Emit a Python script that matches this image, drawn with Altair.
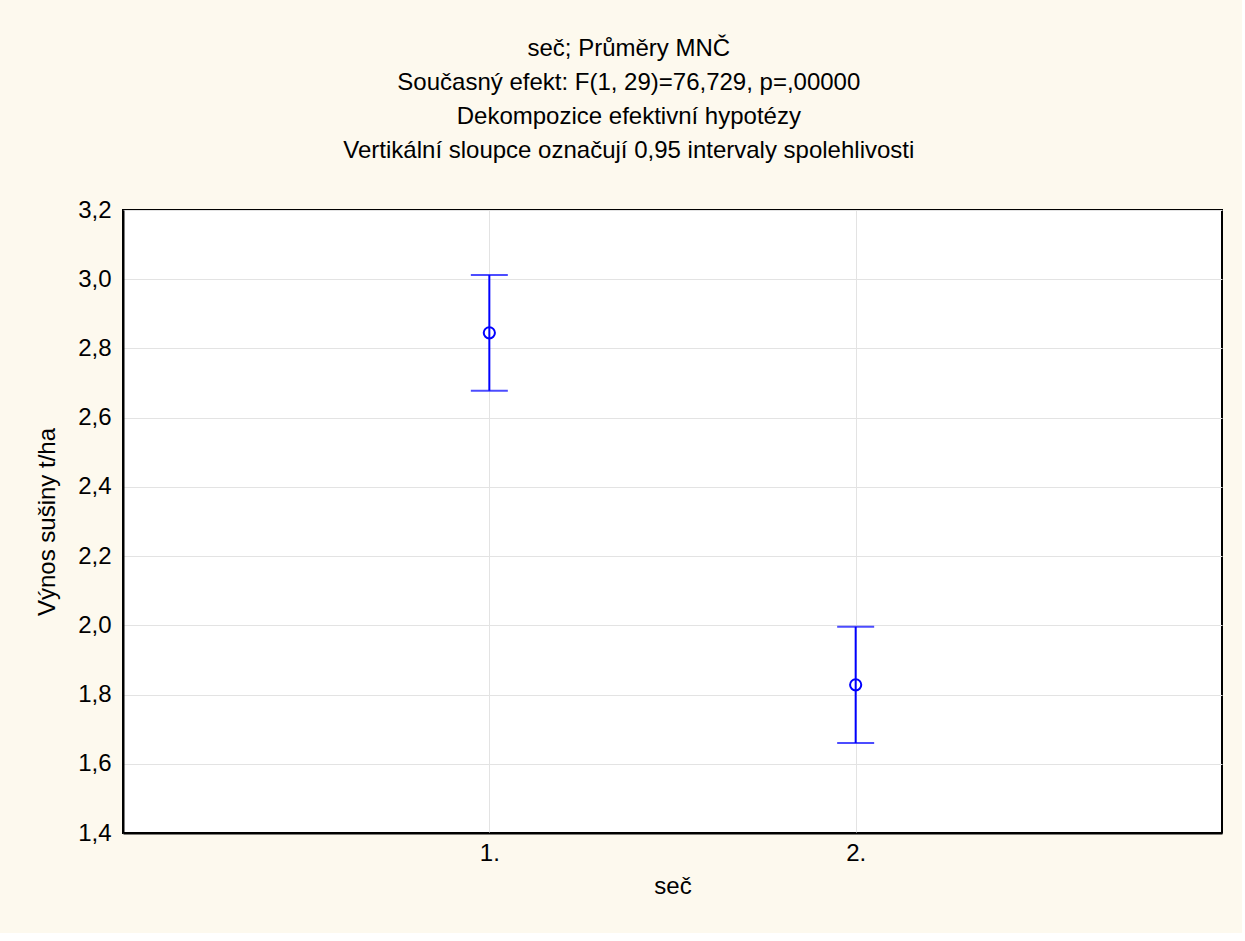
import altair as alt
import pandas as pd

# Data
categories = ["1.", "2."]
means = [2.845, 1.828]
ci_low = [2.678, 1.660]
ci_high = [3.012, 1.996]

title_lines = [
    "seč; Průměry MNČ",
    "Současný efekt: F(1, 29)=76,729, p=,00000",
    "Dekompozice efektivní hypotézy",
    "Vertikální sloupce označují 0,95 intervaly spolehlivosti",
]

df = pd.DataFrame({"sec": categories, "mean": means, "lo": ci_low, "hi": ci_high})

FONT = "Liberation Sans"
BLUE = "#0000FF"

x_enc = alt.X(
    "sec:N",
    scale=alt.Scale(type="point", padding=1, domain=categories),
    axis=alt.Axis(
        title="seč",
        labelAngle=0,
        grid=True,
        ticks=False,
        labelPadding=8,
        titlePadding=9,
    ),
)
y_scale = alt.Scale(domain=[1.4, 3.2], nice=False, zero=False)
y_axis = alt.Axis(
    title="Výnos sušiny t/ha",
    values=[1.4, 1.6, 1.8, 2.0, 2.2, 2.4, 2.6, 2.8, 3.0, 3.2],
    labelExpr="replace(format(datum.value, '.1f'), '.', ',')",
    grid=True,
    ticks=False,
    labelPadding=12,
    titlePadding=18,
)

base = alt.Chart(df)

rules = base.mark_rule(color=BLUE, strokeWidth=2).encode(
    x=x_enc,
    y=alt.Y("lo:Q", scale=y_scale, axis=y_axis),
    y2="hi:Q",
)
caps_hi = base.mark_tick(color=BLUE, thickness=2, size=37).encode(
    x=x_enc, y=alt.Y("hi:Q", scale=y_scale)
)
caps_lo = base.mark_tick(color=BLUE, thickness=2, size=37).encode(
    x=x_enc, y=alt.Y("lo:Q", scale=y_scale)
)
pts = base.mark_point(
    shape="circle", filled=False, color=BLUE, strokeWidth=2, size=125, opacity=1
).encode(x=x_enc, y=alt.Y("mean:Q", scale=y_scale))

chart = (
    alt.layer(rules, caps_hi, caps_lo, pts)
    .properties(
        width=1099,
        height=623,
        autosize=alt.AutoSizeParams(type="none"),
        padding={"left": 123, "top": 210, "right": 20, "bottom": 100},
        background="#FDF9EE",
        title=alt.Title(
            text=title_lines,
            fontSize=24,
            fontWeight="normal",
            font=FONT,
            color="black",
            lineHeight=34,
            anchor="middle",
            frame="bounds",
            offset=35,
        ),
    )
    .configure_view(stroke="black", strokeWidth=2, fill="white")
    .configure_axis(
        labelFont=FONT,
        titleFont=FONT,
        labelFontSize=24,
        titleFontSize=24,
        titleFontWeight="normal",
        labelColor="black",
        titleColor="black",
        domainColor="black",
        domainWidth=2,
        gridColor="#E3E3E3",
        gridWidth=1,
    )
)

chart.save("out.html", embed_options={"renderer": "svg", "actions": False})
